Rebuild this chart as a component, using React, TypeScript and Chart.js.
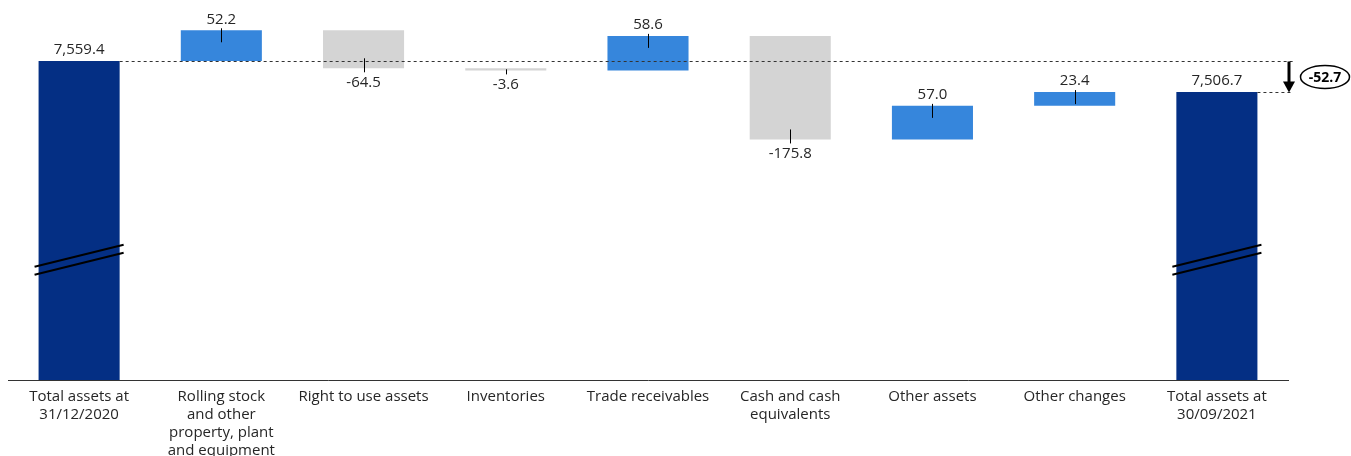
import React, { useEffect, useRef } from "react";
import { Chart, registerables } from "chart.js";

Chart.register(...registerables);

const CATEGORIES: (string | string[])[] = [
  ["Total assets at", "31/12/2020"],
  ["Rolling stock", "and other", "property, plant", "and equipment"],
  "Right to use assets",
  "Inventories",
  "Trade receivables",
  ["Cash and cash", "equivalents"],
  "Other assets",
  "Other changes",
  ["Total assets at", "30/09/2021"],
];
const START_TOTAL = 7559.4;
const END_TOTAL = 7506.7;
const CHANGES = [52.2, -64.5, -3.6, 58.6, -175.8, 57.0, 23.4];
const NET_CHANGE_LABEL = "-52.7";
const Y_MIN = 7018;
const Y_MAX = 7663;
const BREAK_VALUE = 7222;

const COLOR_TOTAL = "#042f84";
const COLOR_UP = "#3686dc";
const COLOR_DOWN = "#d4d4d4";
const TEXT_COLOR = "#262626";
const FONT = "'Open Sans', sans-serif";

function buildBars() {
  const bars: [number, number][] = [[Y_MIN, START_TOTAL]];
  const colors: string[] = [COLOR_TOTAL];
  const labels: string[] = [fmt(START_TOTAL)];
  const kinds: string[] = ["total"];
  let run = START_TOTAL;
  CHANGES.forEach((c) => {
    const next = Math.round((run + c) * 10) / 10;
    bars.push([run, next]);
    colors.push(c >= 0 ? COLOR_UP : COLOR_DOWN);
    labels.push(c.toFixed(1));
    kinds.push(c >= 0 ? "up" : "down");
    run = next;
  });
  bars.push([Y_MIN, END_TOTAL]);
  colors.push(COLOR_TOTAL);
  labels.push(fmt(END_TOTAL));
  kinds.push("total");
  return { bars, colors, labels, kinds };
}

function fmt(v: number) {
  return v.toLocaleString("en-US", { minimumFractionDigits: 1, maximumFractionDigits: 1 });
}

export default function App() {
  const ref = useRef<HTMLCanvasElement | null>(null);
  useEffect(() => {
    if (!ref.current) return;
    const { bars, colors, labels, kinds } = buildBars();

    const decor = {
      id: "waterfallDecor",
      afterDatasetsDraw(chart: any) {
        const ctx = chart.ctx;
        const meta = chart.getDatasetMeta(0);
        const ys = chart.scales.y;
        const area = chart.chartArea;
        const els = meta.data.map((el: any) => el.getProps(["x", "y", "base", "width"], true));
        ctx.save();
        // dashed reference lines
        const yStart = Math.round(ys.getPixelForValue(START_TOTAL)) + 0.5;
        const yEnd = Math.round(ys.getPixelForValue(END_TOTAL)) + 0.5;
        ctx.strokeStyle = "#333";
        ctx.lineWidth = 1;
        ctx.setLineDash([3, 3]);
        ctx.beginPath();
        ctx.moveTo(els[0].x + els[0].width / 2, yStart);
        ctx.lineTo(area.right + 7, yStart);
        const last = els[els.length - 1];
        ctx.moveTo(last.x + last.width / 2, yEnd);
        ctx.lineTo(area.right + 4, yEnd);
        ctx.stroke();
        ctx.setLineDash([]);

        // value labels and ticks
        ctx.font = `15px ${FONT}`;
        ctx.fillStyle = TEXT_COLOR;
        ctx.textAlign = "center";
        ctx.textBaseline = "middle";
        els.forEach((e: any, i: number) => {
          const top = Math.min(e.y, e.base);
          const bottom = Math.max(e.y, e.base);
          const kind = kinds[i];
          ctx.strokeStyle = "#000";
          ctx.lineWidth = 1;
          const tx = Math.round(e.x) + 0.5;
          if (kind === "total") {
            ctx.fillText(labels[i], e.x, top - 11);
          } else if (kind === "up") {
            ctx.beginPath();
            ctx.moveTo(tx, top - 2);
            ctx.lineTo(tx, top + 12);
            ctx.stroke();
            ctx.fillText(labels[i], e.x, top - 11);
          } else {
            ctx.beginPath();
            ctx.moveTo(tx, Math.max(top + 1, bottom - 10));
            ctx.lineTo(tx, bottom + 4);
            ctx.stroke();
            ctx.fillText(labels[i], e.x, bottom + 14);
          }
        });

        // axis break marks on total bars
        const yb = ys.getPixelForValue(BREAK_VALUE);
        ctx.strokeStyle = "#000";
        ctx.lineWidth = 2;
        [0, els.length - 1].forEach((i) => {
          const e = els[i];
          const l = e.x - e.width / 2 - 4;
          const r = e.x + e.width / 2 + 4;
          [-4, 4].forEach((off) => {
            ctx.beginPath();
            ctx.moveTo(l, yb + off + 11);
            ctx.lineTo(r, yb + off - 11);
            ctx.stroke();
          });
        });

        // net change arrow
        const ax = area.right + 1;
        ctx.fillStyle = "#000";
        ctx.strokeStyle = "#000";
        ctx.lineWidth = 3;
        ctx.beginPath();
        ctx.moveTo(ax, yStart);
        ctx.lineTo(ax, yEnd - 10);
        ctx.stroke();
        ctx.beginPath();
        ctx.moveTo(ax - 6, yEnd - 11);
        ctx.lineTo(ax + 6, yEnd - 11);
        ctx.lineTo(ax, yEnd);
        ctx.closePath();
        ctx.fill();

        // ellipse with net change
        const cx = area.right + 37;
        const cy = (yStart + yEnd) / 2;
        ctx.lineWidth = 1.5;
        ctx.beginPath();
        ctx.ellipse(cx, cy, 24.5, 11.5, 0, 0, Math.PI * 2);
        ctx.stroke();
        ctx.font = `bold 14px ${FONT}`;
        ctx.fillStyle = "#000";
        ctx.fillText(NET_CHANGE_LABEL, cx, cy + 1);
        ctx.restore();
      },
    };

    const chart = new Chart(ref.current, {
      type: "bar",
      data: {
        labels: CATEGORIES,
        datasets: [
          {
            data: bars as any,
            backgroundColor: colors,
            borderWidth: 0,
            barPercentage: 1,
            categoryPercentage: 0.57,
          },
        ],
      },
      options: {
        animation: false,
        responsive: true,
        maintainAspectRatio: false,
        layout: { padding: { left: 8, right: 63, top: 0, bottom: 0 } },
        plugins: { legend: { display: false }, tooltip: { enabled: false } },
        scales: {
          x: {
            grid: { display: false },
            border: { display: true, color: "#333", width: 1 },
            ticks: {
              color: TEXT_COLOR,
              font: { family: FONT, size: 15, lineHeight: 18 / 15 },
              padding: 0,
              maxRotation: 0,
              autoSkip: false,
            },
            afterFit: (s: any) => {
              s.height = 76;
            },
          },
          y: { display: false, min: Y_MIN, max: Y_MAX },
        },
      },
      plugins: [decor],
    });
    return () => chart.destroy();
  }, []);

  return (
    <div style={{ position: "fixed", left: 0, top: 0, width: 1351, height: 456, background: "#fff" }}>
      <canvas ref={ref} />
    </div>
  );
}
